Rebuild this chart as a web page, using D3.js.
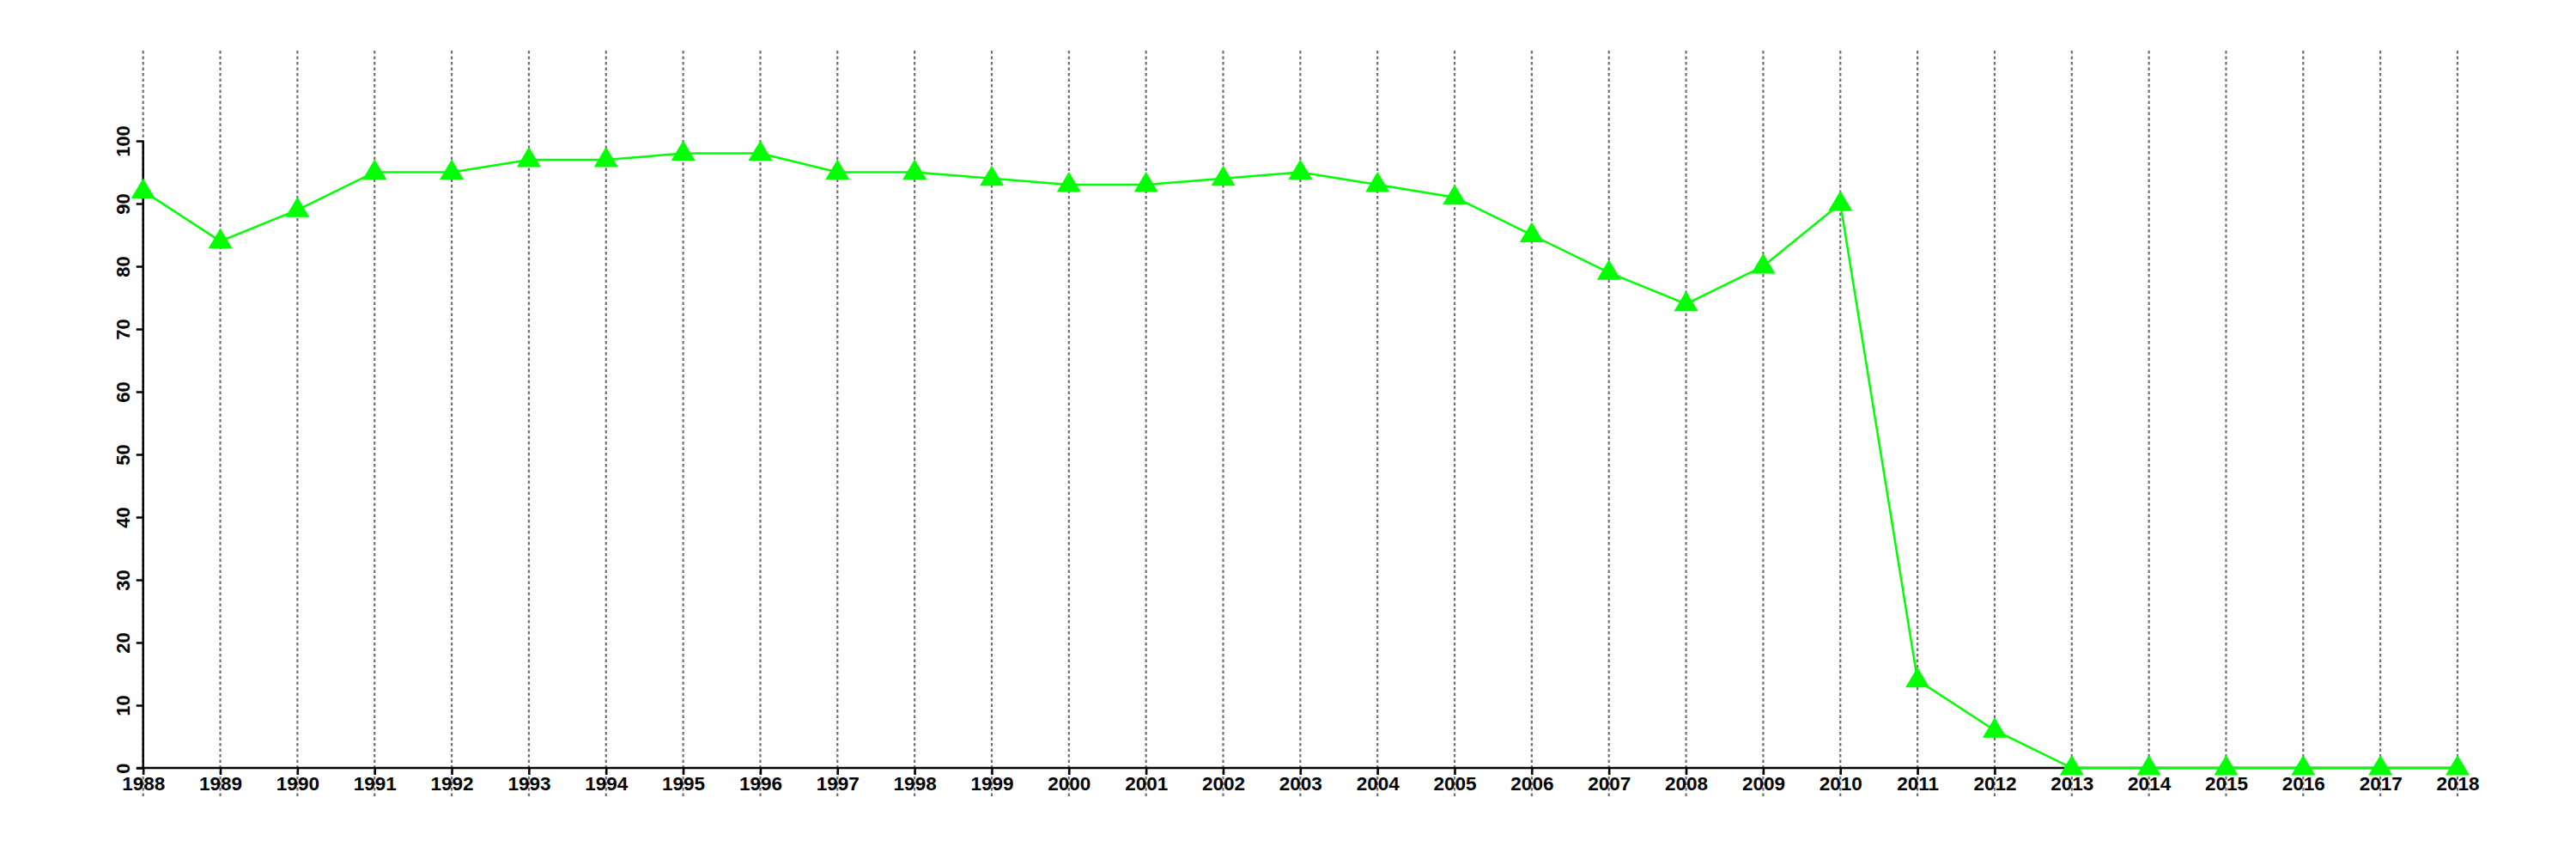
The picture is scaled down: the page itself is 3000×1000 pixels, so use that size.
<!DOCTYPE html>
<html><head><meta charset="utf-8">
<script src="https://cdn.jsdelivr.net/npm/d3@7"></script>
<style>body{margin:0;background:#fff}svg{display:block}text{font-family:"Liberation Sans",Arial,sans-serif;font-weight:bold;fill:#000}</style>
</head><body>
<svg id="c" width="3000" height="1000"></svg>
<script>
const years = [1988,1989,1990,1991,1992,1993,1994,1995,1996,1997,1998,1999,2000,2001,2002,2003,2004,2005,2006,2007,2008,2009,2010,2011,2012,2013,2014,2015,2016,2017,2018];
const values = [92,84,89,95,95,97,97,98,98,95,95,94,93,93,94,95,93,91,85,79,74,80,90,14,6,0,0,0,0,0,0];
const yTicks = [0,10,20,30,40,50,60,70,80,90,100];

const svg = d3.select("#c");
const x = d3.scaleLinear().domain([1988,2018]).range([166.7,2862]);
const y = d3.scaleLinear().domain([0,100]).range([894,164]);

// grid
svg.append("g").selectAll("line").data(years).join("line")
  .attr("x1",d=>x(d)).attr("x2",d=>x(d)).attr("y1",59).attr("y2",928)
  .attr("stroke","#707070").attr("stroke-width",2.2).attr("stroke-dasharray","3.5,3");

// x axis
const xa = svg.append("g").attr("transform","translate(0,894)")
  .call(d3.axisBottom(x).tickValues(years).tickFormat(d3.format("d")).tickSize(8).tickSizeOuter(0));
xa.select(".domain").remove();
xa.append("line").attr("x1",159).attr("x2",x(2018)).attr("stroke","#000").attr("stroke-width",2.5);
xa.selectAll(".tick line").attr("stroke","#000").attr("stroke-width",2.5);
xa.selectAll(".tick text").attr("y",26).attr("dy","0").style("font-size","22.5px").attr("fill","#000").attr("font-family",null);

// y axis
const ya = svg.append("g").attr("transform","translate(166.7,0)")
  .call(d3.axisLeft(y).tickValues(yTicks).tickSize(8).tickSizeOuter(0));
ya.select(".domain").remove();
ya.append("line").attr("y1",y(0)).attr("y2",y(100)).attr("stroke","#000").attr("stroke-width",2.5);
ya.selectAll(".tick line").attr("stroke","#000").attr("stroke-width",2.5);
ya.selectAll(".tick text").attr("x",null).attr("dy",null).attr("y",null)
  .attr("transform","translate(-16,0) rotate(-90)").attr("text-anchor","middle")
  .style("font-size","22px").attr("fill","#000").attr("font-family",null);

// line
svg.append("path").datum(values)
  .attr("d", d3.line().x((d,i)=>x(years[i])).y(d=>y(d)))
  .attr("fill","none").attr("stroke","#00ff00").attr("stroke-width",2.5);

// markers
svg.append("g").selectAll("path").data(values).join("path")
  .attr("transform",(d,i)=>`translate(${x(years[i])},${y(d)})`)
  .attr("d","M0,-15L14,8.5L-14,8.5Z").attr("fill","#00ff00");
</script>
</body></html>
